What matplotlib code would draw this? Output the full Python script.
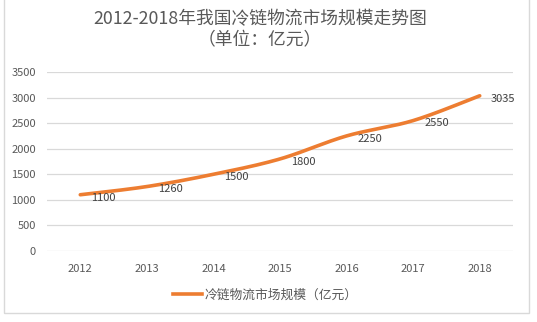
import numpy as np
import matplotlib
matplotlib.use("Agg")
import matplotlib.pyplot as plt
from matplotlib.patches import Rectangle
from matplotlib.lines import Line2D

plt.rcParams['font.family'] = ['Noto Sans CJK SC', 'DejaVu Sans']

years = ['2012', '2013', '2014', '2015', '2016', '2017', '2018']
values = [1100, 1260, 1500, 1800, 2250, 2550, 3035]
title = '2012-2018年我国冷链物流市场规模走势图\n（单位：亿元）'
series_name = '冷链物流市场规模（亿元）'

ORANGE = '#ED7D31'
GRID = '#D9D9D9'
TXT = '#595959'

fig = plt.figure(figsize=(5.37, 3.22), dpi=100)
ax = fig.add_axes([47/537, 1-251/322, (513-47)/537, (251-72)/322])

x = np.arange(len(years), dtype=float)
y = np.array(values, dtype=float)

# Catmull-Rom smoothing of the drawn line (like Excel's smoothed line)
def smooth(xp, yp, n=30):
    px = np.concatenate([[xp[0]], xp, [xp[-1]]])
    py = np.concatenate([[yp[0]], yp, [yp[-1]]])
    xs, ys = [], []
    for i in range(1, len(px) - 2):
        p0, p1, p2, p3 = [np.array([px[j], py[j]]) for j in (i-1, i, i+1, i+2)]
        c1 = p1 + (p2 - p0) / 6
        c2 = p2 - (p3 - p1) / 6
        t = np.linspace(0, 1, n)[:, None]
        b = (1-t)**3*p1 + 3*(1-t)**2*t*c1 + 3*(1-t)*t**2*c2 + t**3*p2
        xs.extend(b[:, 0]); ys.extend(b[:, 1])
    return np.array(xs), np.array(ys)

sx, sy = smooth(x, y)
ax.plot(sx, sy, color=ORANGE, lw=2.6, solid_capstyle='round')

for xi, yi, v in zip(x, y, values):
    ax.annotate(str(v), (xi, yi), xytext=(8, -2), textcoords='offset points',
                ha='left', va='center', fontsize=8, color='#404040')

ax.set_xlim(-0.5, len(years) - 0.5)
ax.set_ylim(0, 3500)
ax.set_yticks(np.arange(0, 3501, 500))
ax.set_xticks(x)
ax.set_xticklabels(years)
ax.grid(axis='y', color=GRID, lw=0.9)
ax.set_axisbelow(True)
for s in ax.spines.values():
    s.set_visible(False)
ax.tick_params(length=0, labelsize=8, colors=TXT, pad=8)
ax.tick_params(axis='x', pad=9)

fig.text(260/537, 1-30/322, title, ha='center', va='center', fontsize=12.8,
         color='#595959', linespacing=1.25)

handle = Line2D([], [], color=ORANGE, lw=2.6)
fig.legend([handle], [series_name], loc='center', bbox_to_anchor=(265/537, 1-295/322),
           frameon=False, fontsize=9.2, handlelength=2.3, handletextpad=0.15,
           labelcolor=TXT)

fig.patches.append(Rectangle((4/537, 1-313/322), (529-4)/537, 313/322 + 0.05,
                             transform=fig.transFigure, fill=False,
                             edgecolor=GRID, lw=1))

fig.savefig('out.png', dpi=100)
